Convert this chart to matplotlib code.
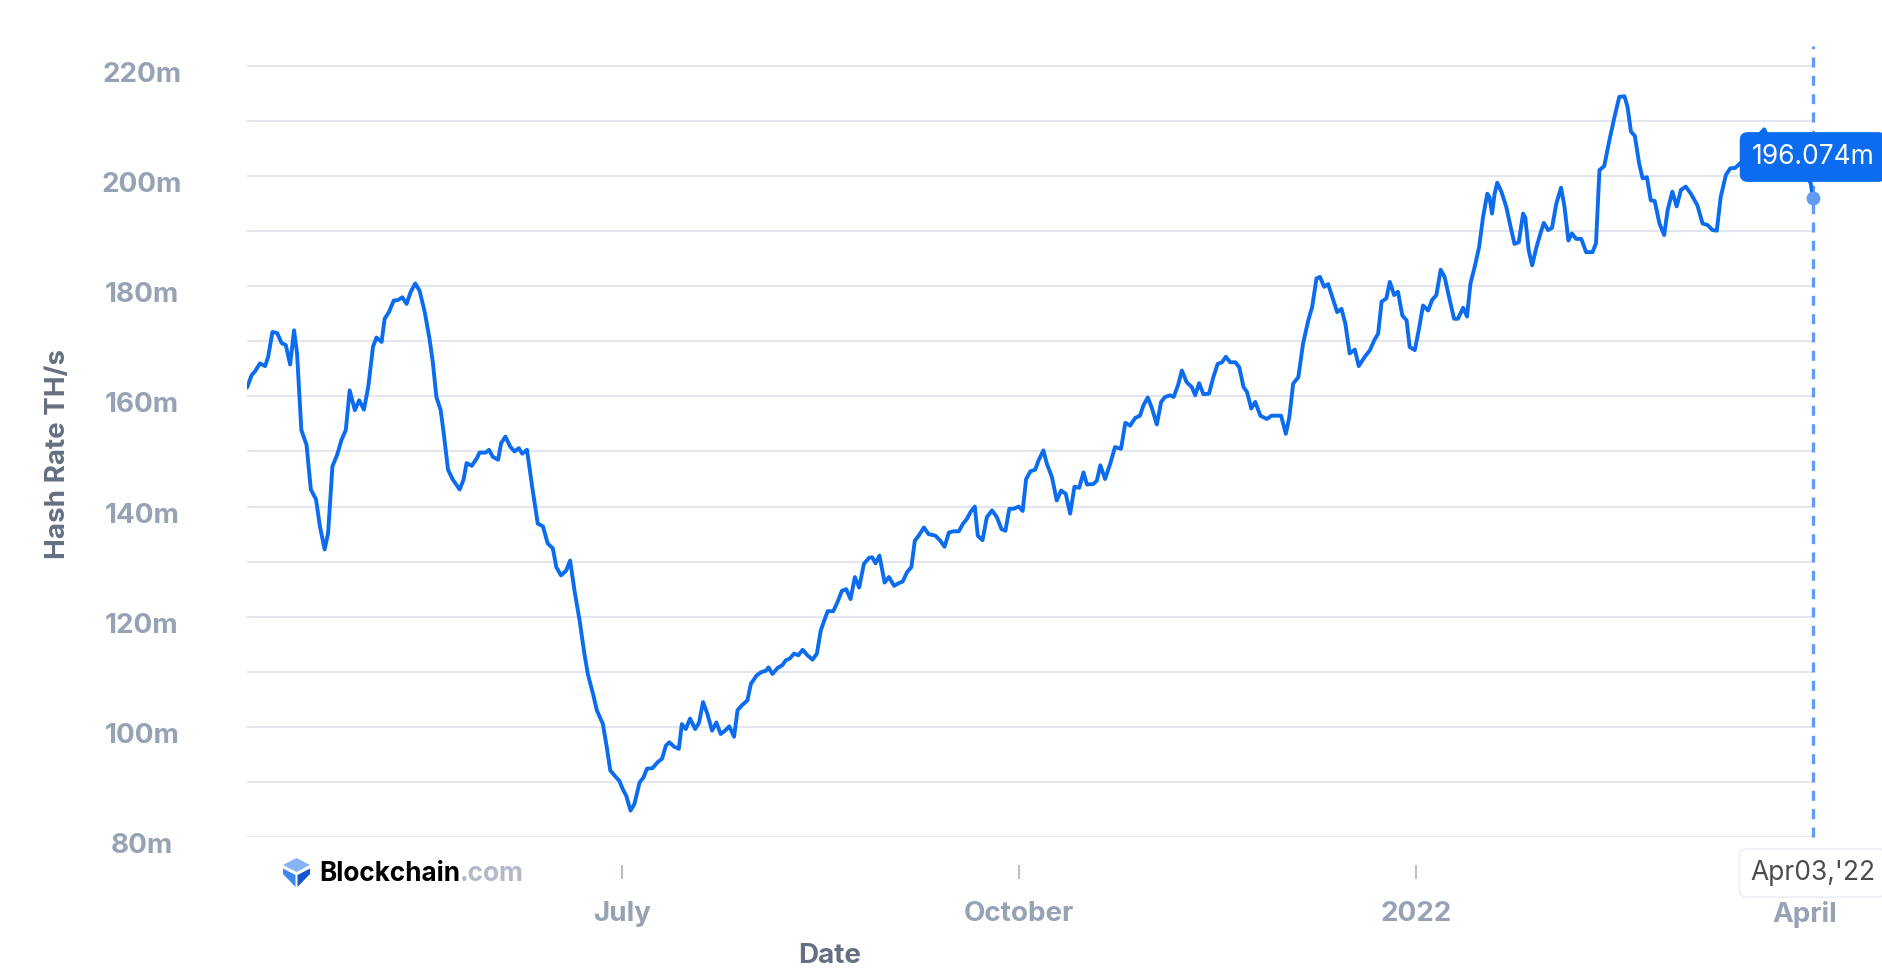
import numpy as np
import pandas as pd
import matplotlib
matplotlib.use("Agg")
import matplotlib.pyplot as plt
import matplotlib.transforms as mtransforms
from matplotlib.patches import Polygon

plt.rcParams['font.family'] = ['Inter', 'DejaVu Sans']

# days after 2021-04-05, hash rate in millions of TH/s
day_offset = [
    0, 1.1, 1.9, 3.0, 4.2, 4.9, 5.9, 7.0, 8.0, 9.0, 10.0, 10.9, 11.6, 12.6, 13.8, 14.8, 16.0, 16.9, 18.0, 18.8,
    19.8, 20.9, 21.9, 22.9, 23.8, 25.0, 26.0, 27.1, 28.1, 29.2, 30.0, 31.2, 31.9, 32.9, 34.0, 35.0, 36.0, 37.0,
    37.9, 39.0, 40.0, 41.2, 42.3, 43.1, 43.9, 44.9, 45.6, 46.6, 47.7, 49.3, 50.2, 50.9, 52.1, 53.3, 53.9, 55.3,
    56.1, 57.0, 58.2, 58.9, 59.9, 61.0, 62.0, 63.0, 63.8, 64.9, 66.1, 67.4, 68.6, 69.7, 70.9, 71.7, 72.8, 74.0,
    74.9, 75.9, 77.1, 78.2, 79.0, 80.2, 81.1, 82.5, 83.4, 84.2, 85.6, 86.3, 87.1, 87.9, 88.9, 89.8, 91.0, 91.9,
    92.7, 94.0, 95.2, 96.2, 97.1, 97.9, 99.0, 100.1, 100.8, 101.7, 102.7, 103.9, 104.8, 105.7, 106.7, 107.8,
    108.8, 109.8, 110.8, 111.8, 112.9, 113.7, 114.7, 116.0, 116.8, 118.1, 119.1, 120.3, 120.9, 121.8, 123.0,
    124.1, 124.9, 125.8, 126.8, 127.8, 128.8, 129.9, 131.1, 132.1, 133.0, 133.8, 134.6, 135.9, 136.9, 137.9,
    138.9, 139.9, 140.9, 141.9, 143.0, 144.2, 144.9, 145.7, 146.6, 147.8, 148.8, 150.0, 151.1, 152.0, 153.0,
    154.0, 154.8, 155.7, 156.9, 158.0, 159.6, 160.7, 161.7, 162.7, 163.8, 165.0, 165.9, 166.9, 167.7, 168.7,
    169.4, 170.5, 171.5, 172.7, 173.8, 174.9, 175.8, 176.7, 177.7, 178.9, 179.8, 180.6, 181.6, 182.7, 183.5,
    184.6, 185.4, 186.6, 187.7, 188.7, 189.8, 190.8, 191.8, 192.9, 193.9, 194.7, 196.2, 197.0, 197.8, 198.9,
    200.1, 201.2, 202.6, 203.6, 204.7, 205.9, 207.0, 207.8, 208.8, 209.7, 210.9, 211.9, 212.8, 214.0, 214.8,
    215.8, 216.7, 217.8, 219.0, 219.8, 220.7, 221.7, 223.0, 224.0, 225.0, 226.0, 226.9, 227.9, 229.1, 230.0,
    231.0, 231.8, 232.8, 233.7, 234.9, 236.4, 237.5, 238.7, 239.7, 240.8, 241.6, 242.5, 243.7, 244.8, 246.0,
    246.9, 247.9, 248.7, 249.7, 250.6, 251.8, 252.7, 253.7, 254.6, 255.6, 256.8, 257.7, 259.1, 260.3, 261.3,
    262.2, 263.0, 264.1, 264.9, 265.9, 266.8, 267.8, 268.8, 269.5, 270.7, 271.6, 272.6, 273.8, 274.7, 275.7,
    276.7, 277.6, 278.8, 279.8, 280.7, 281.9, 282.8, 283.6, 284.6, 285.6, 286.5, 287.5, 288.0, 288.6, 289.2,
    289.8, 290.8, 291.9, 293.1, 293.8, 294.8, 295.8, 296.3, 297.1, 297.9, 298.9, 299.9, 300.6, 301.6, 302.5,
    303.5, 304.6, 305.4, 306.3, 307.1, 308.1, 309.3, 310.4, 311.9, 312.7, 313.5, 314.6, 315.8, 317.0, 318.1,
    319.3, 320.0, 320.8, 321.7, 322.7, 323.5, 324.5, 325.4, 326.3, 327.4, 328.5, 329.3, 330.4, 331.4, 332.4,
    333.5, 334.7, 336.2, 337.4, 338.6, 339.7, 340.7, 341.6, 342.8, 343.8, 345.0, 347.0, 349.0, 350.5, 351.7,
    352.5, 354.0, 357.0, 360.0, 362.0, 362.4, 363.0,
]
hash_rate = [
    161.6, 163.9, 164.6, 166.0, 165.5, 167.2, 171.7, 171.5, 169.7, 169.3, 165.8, 172.0, 167.8, 153.9, 151.2,
    143.1, 141.3, 136.4, 132.2, 135.2, 147.3, 149.4, 152.1, 153.9, 161.1, 157.5, 159.3, 157.6, 161.7, 169.0,
    170.7, 169.9, 174.1, 175.3, 177.4, 177.5, 178.0, 176.8, 178.9, 180.5, 179.2, 175.3, 170.5, 166.0, 159.9,
    157.5, 153.3, 146.7, 144.9, 143.1, 144.9, 147.9, 147.4, 148.8, 149.8, 149.8, 150.3, 149.0, 148.5, 151.5,
    152.7, 150.9, 150.0, 150.6, 149.6, 150.3, 143.6, 136.9, 136.4, 133.3, 132.4, 129.0, 127.5, 128.4, 130.2,
    124.8, 119.3, 113.3, 109.6, 106.0, 103.0, 100.5, 96.3, 92.1, 90.8, 90.2, 88.7, 87.5, 84.8, 86.0, 89.9,
    90.8, 92.4, 92.5, 93.6, 94.2, 96.6, 97.2, 96.4, 96.0, 100.5, 99.6, 101.5, 99.6, 100.8, 104.5, 102.4, 99.3,
    100.8, 98.7, 99.3, 100.1, 98.2, 103.0, 103.9, 104.8, 107.8, 109.3, 109.9, 110.2, 110.8, 109.6, 110.7,
    111.2, 112.1, 112.4, 113.3, 113.0, 114.0, 113.0, 112.2, 113.3, 117.5, 119.3, 121.0, 121.0, 122.7, 124.7,
    125.0, 123.2, 127.2, 125.3, 129.6, 130.7, 130.8, 129.7, 131.1, 126.2, 127.2, 125.6, 126.1, 126.4, 128.1,
    129.0, 133.8, 134.7, 136.2, 135.0, 134.7, 133.8, 132.7, 135.3, 135.5, 135.5, 136.8, 137.8, 139.0, 140.0,
    134.7, 133.9, 138.1, 139.3, 138.1, 135.9, 135.6, 139.6, 139.6, 140.0, 139.2, 145.0, 146.4, 146.7, 148.4,
    150.2, 147.8, 145.3, 141.1, 142.9, 142.3, 138.7, 143.6, 143.4, 146.2, 144.0, 144.1, 144.7, 147.5, 145.0,
    147.8, 150.8, 150.5, 155.2, 154.7, 156.1, 156.5, 158.4, 159.8, 158.0, 154.9, 159.0, 159.9, 160.2, 159.9,
    162.0, 164.7, 162.6, 161.7, 160.2, 162.4, 160.4, 160.5, 163.5, 165.9, 166.2, 167.2, 166.2, 166.2, 165.3,
    161.7, 160.8, 157.8, 159.0, 156.5, 155.9, 156.5, 156.5, 156.5, 153.2, 156.2, 162.3, 163.5, 169.6, 173.8,
    176.2, 181.4, 181.7, 179.9, 180.4, 177.5, 175.3, 175.9, 173.2, 167.8, 168.5, 165.5, 167.2, 168.4, 170.2,
    171.4, 177.2, 177.8, 180.8, 178.4, 179.0, 174.7, 173.8, 169.0, 168.4, 172.0, 176.5, 175.6, 177.5, 178.4,
    183.0, 181.7, 177.5, 174.1, 174.1, 176.1, 174.5, 180.5, 183.6, 187.1, 192.5, 196.8, 196.2, 193.2, 196.8,
    198.8, 197.1, 194.4, 190.1, 187.7, 188.0, 193.2, 192.5, 186.5, 183.8, 187.1, 189.8, 191.5, 190.2, 190.6,
    195.0, 197.9, 194.4, 188.3, 189.6, 188.6, 188.6, 186.2, 186.2, 187.8, 201.1, 201.8, 206.5, 210.8, 214.4,
    214.5, 212.6, 208.1, 207.3, 202.3, 199.6, 199.8, 195.6, 195.5, 191.4, 189.3, 193.8, 197.2, 194.5, 197.5,
    198.1, 196.8, 194.7, 191.4, 191.1, 190.2, 190.1, 196.2, 200.2, 201.4, 201.5, 203.0, 205.0, 207.5, 208.5,
    207.0, 205.0, 203.0, 200.5, 199.2, 199.0, 196.074,
]
start_date = pd.Timestamp('2021-04-05')
last_value = '196.074m'
last_date_label = "Apr03,'22"

y_ticks = [80, 100, 120, 140, 160, 180, 200, 220]
y_ticklabels = ['80m', '100m', '120m', '140m', '160m', '180m', '200m', '220m']
x_ticks = ['2021-07-01', '2021-10-01', '2022-01-01', '2022-04-01']
x_ticklabels = ['July', 'October', '2022', 'April']

W, H = 1883, 976
blue = '#0b6cf0'
tick_grey = '#98a2b5'
label_grey = '#656f82'

dates = start_date + pd.to_timedelta(day_offset, unit='D')

fig = plt.figure(figsize=(W / 100, H / 100), dpi=100)
ax = fig.add_axes([247 / W, 1 - 837 / H, 1566 / W, (837 - 45.6) / H])

ax.plot(dates, hash_rate, color=blue, lw=2.8, solid_joinstyle='round', solid_capstyle='round', zorder=3)

ax.set_xlim(start_date, start_date + pd.Timedelta(days=363))
ax.set_ylim(80, 223.7)

# gridlines every 10m, labels every 20m (labels drawn as text, centred and a bit below the line)
ax.set_yticks(y_ticks)
ax.set_yticks(np.arange(90, 220, 20), minor=True)
ax.set_yticklabels([])
ax.grid(True, axis='y', which='both', color='#e3e6ef', lw=1.4)
ax.tick_params(axis='y', which='both', length=0)
ylab_trans = mtransforms.offset_copy(ax.get_yaxis_transform(), fig=fig, x=0, y=-6, units='dots')
for v, s in zip(y_ticks, y_ticklabels):
    ax.text(-(247 - 141.7) / 1566, v, s, transform=ylab_trans, ha='center', va='center_baseline',
            color=tick_grey, fontsize=20, fontweight='bold')

ax.set_xticks(pd.to_datetime(x_ticks))
ax.set_xticklabels(x_ticklabels)
ax.spines['bottom'].set_position(('outward', 20))
ax.tick_params(axis='x', length=10, width=1.1, color='#a3abba', pad=16,
               labelsize=20, labelcolor=tick_grey)
for lbl in ax.get_xticklabels():
    lbl.set_fontweight('bold')
for s in ax.spines.values():
    s.set_visible(False)

# current value marker
end_date = start_date + pd.Timedelta(days=363)
ax.plot([end_date, end_date], [80, 223.7], color='#5f9cf2', lw=2.4, ls=(0, (3, 2.5)), zorder=2, clip_on=False)
ax.plot([end_date], [hash_rate[-1]], 'o', color='#5f9cf2', ms=9, zorder=4, clip_on=False)

fig.text(1813 / W, 1 - 157 / H, last_value, color='white', fontsize=19, ha='center', va='center',
         bbox=dict(boxstyle='round,pad=0.45,rounding_size=0.3', fc=blue, ec='none'))
fig.text(1813 / W, 1 - 873 / H, last_date_label, color='#4d4d4d', fontsize=19, ha='center', va='center',
         bbox=dict(boxstyle='round,pad=0.42,rounding_size=0.3', fc='white', ec='#eceef2', lw=1.2))

fig.text(57.6 / W, 1 - 454 / H, 'Hash Rate TH/s', rotation=90, ha='center', va='center',
         color=label_grey, fontsize=20, fontweight='bold')
fig.text(830 / W, 1 - 956 / H, 'Date', ha='center', va='center',
         color=label_grey, fontsize=20, fontweight='bold')

# blockchain.com logo
def px(x, y):
    return (x / W, 1 - y / H)

fig.patches.append(Polygon([px(296.5, 858), px(310, 865), px(296.5, 872), px(283, 865)],
                           closed=True, fc='#85b4f6', ec='none', transform=fig.transFigure))
fig.patches.append(Polygon([px(283, 868.5), px(295.5, 875), px(295.5, 887), px(283, 874)],
                           closed=True, fc='#3d87f3', ec='none', transform=fig.transFigure))
fig.patches.append(Polygon([px(310, 868.5), px(297.5, 875), px(297.5, 887), px(310, 874)],
                           closed=True, fc='#1457cc', ec='none', transform=fig.transFigure))
t1 = fig.text(319 / W, 1 - 874 / H, 'Blockchain', ha='left', va='center', color='black',
              fontsize=18.8, fontweight='bold')
fig.canvas.draw()
bb = t1.get_window_extent()
fig.text(bb.x1 / W, 1 - 874 / H, '.com', ha='left', va='center', color='#b3b9c6',
         fontsize=18.8, fontweight='bold')

fig.savefig('out.png', dpi=100, facecolor='white')
